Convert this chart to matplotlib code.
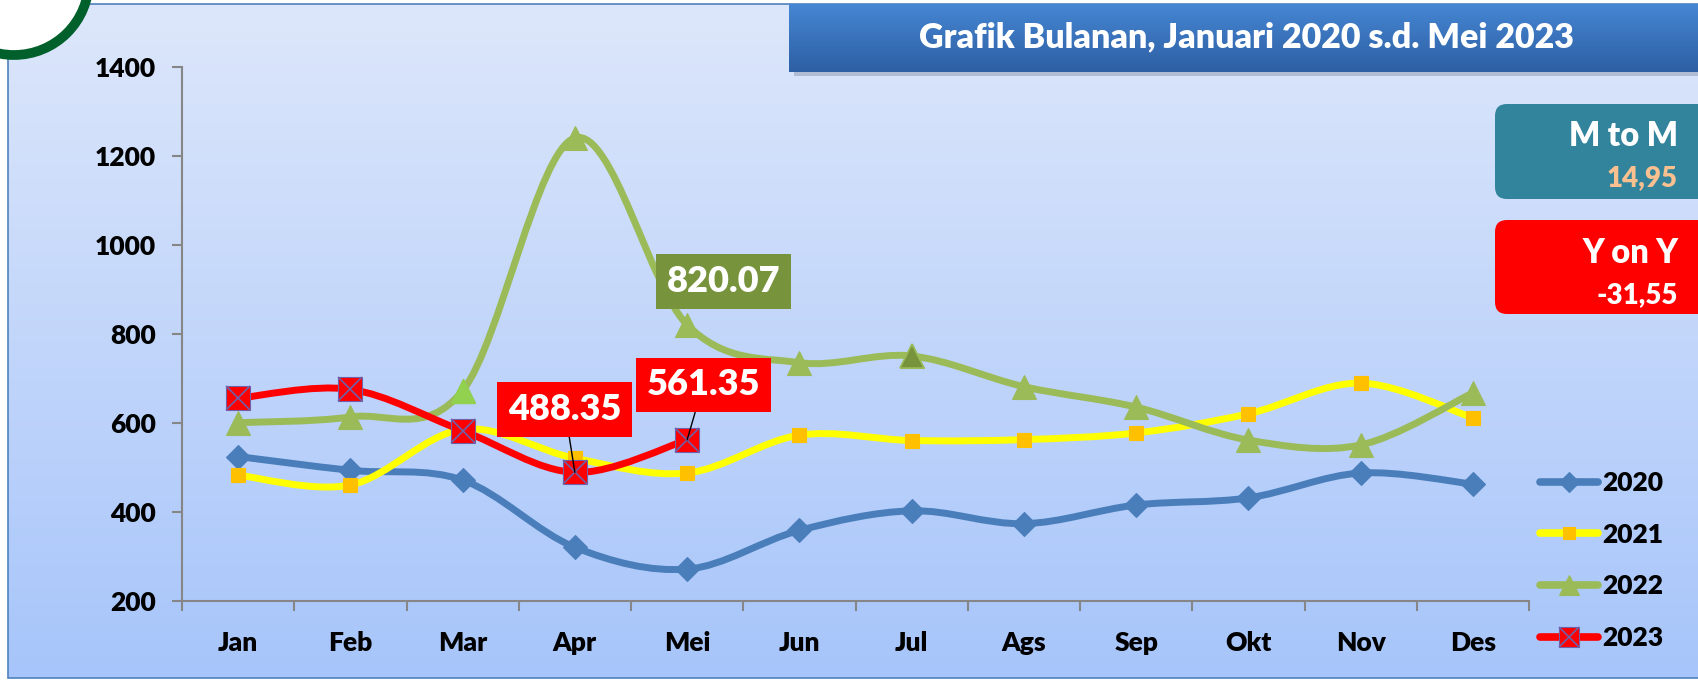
import numpy as np
import matplotlib.pyplot as plt
from matplotlib.path import Path
from matplotlib.patches import PathPatch, FancyBboxPatch, Rectangle, Circle
from matplotlib.lines import Line2D
from matplotlib.colors import LinearSegmentedColormap

plt.rcParams['font.family'] = ['Lato', 'DejaVu Sans']
plt.rcParams['font.weight'] = 'heavy'

months = ['Jan', 'Feb', 'Mar', 'Apr', 'Mei', 'Jun', 'Jul', 'Ags', 'Sep', 'Okt', 'Nov', 'Des']
y2020 = [524, 493, 471, 320, 271, 358, 402, 373, 415, 431, 487, 462]
y2021 = [482, 460, 585, 520, 487, 572, 560, 562, 577, 620, 689, 611]
y2022 = [600, 613, 672, 1240, 820.07, 735, 750, 681, 635, 561, 550, 667]
y2023 = [655, 675, 582, 488.35, 561.35]
seriesNames = ['2020', '2021', '2022', '2023']
titleText = 'Grafik Bulanan, Januari 2020 s.d. Mei 2023'
mtmLabel, mtmValue = 'M to M', '14,95'
yoyLabel, yoyValue = 'Y on Y', '-31,55'

W, H = 1698, 681


def smoothPath(xs, ys):
    # excel-like smoothed line: catmull-rom as cubic bezier segments
    pts = np.column_stack([xs, ys]).astype(float)
    n = len(pts)
    verts = [pts[0]]
    codes = [Path.MOVETO]
    for i in range(n - 1):
        p0 = pts[max(i - 1, 0)]
        p1 = pts[i]
        p2 = pts[i + 1]
        p3 = pts[min(i + 2, n - 1)]
        verts += [p1 + (p2 - p0) / 6, p2 - (p3 - p1) / 6, p2]
        codes += [Path.CURVE4] * 3
    return Path(verts, codes)


fig = plt.figure(figsize=(W / 100, H / 100), dpi=100)

# background layer in pixel coordinates
bg = fig.add_axes([0, 0, 1, 1], zorder=0)
bg.set_xlim(0, W)
bg.set_ylim(H, 0)
bg.axis('off')
bgCmap = LinearSegmentedColormap.from_list('bg', ['#dde7fb', '#a7c5fa'])
bg.imshow(np.linspace(0, 1, 256).reshape(-1, 1), cmap=bgCmap, aspect='auto',
          extent=[8, W + 5, 678, 4], zorder=0)
bg.add_patch(Rectangle((8, 4), W, 674, fill=False, edgecolor='#4f81bd', lw=1.2, zorder=1))
bg.add_patch(Circle((14, -20), 75, facecolor='white', edgecolor='#00602b', lw=7, zorder=2))

# title banner
bg.add_patch(Rectangle((794, 9), W, 67, facecolor='#8e9cb3', edgecolor='none', alpha=0.55, zorder=2))
titleCmap = LinearSegmentedColormap.from_list('tt', ['#4686d3', '#2d5fa3'])
bg.imshow(np.linspace(0, 1, 256).reshape(-1, 1), cmap=titleCmap, aspect='auto',
          extent=[789, W + 5, 72, 4], zorder=3)
bg.text(1247, 47, titleText, color='white', fontsize=24.5,
        ha='center', va='baseline', zorder=4)

# M to M / Y on Y boxes
bg.add_patch(FancyBboxPatch((1495, 104), 260, 95, boxstyle='round,pad=0,rounding_size=12',
                            facecolor='#31849b', edgecolor='none', zorder=2))
bg.text(1678, 146, mtmLabel, color='white', fontsize=23.5, ha='right', va='baseline', zorder=3)
bg.text(1678, 186, mtmValue, color='#fac090', fontsize=20, ha='right', va='baseline', zorder=3)
bg.add_patch(FancyBboxPatch((1495, 220), 260, 94, boxstyle='round,pad=0,rounding_size=12',
                            facecolor='#ff0000', edgecolor='none', zorder=2))
bg.text(1678, 263, yoyLabel, color='white', fontsize=23.5, ha='right', va='baseline', zorder=3)
bg.text(1678, 303, yoyValue, color='white', fontsize=20, ha='right', va='baseline', zorder=3)

# main chart
ax = fig.add_axes([182 / W, 80.3 / H, (1529 - 182) / W, (600.7 - 66.7) / H], zorder=2)
ax.patch.set_visible(False)
x = np.arange(len(months))

styles = [
    dict(data=y2020, line='#4a7ebb', marker='D', ms=12, mfc='#4a7ebb', mec='#4a7ebb'),
    dict(data=y2021, line='#ffff00', marker='s', ms=10.5, mfc='#ffc000', mec='#ffc000'),
    dict(data=y2022, line='#9bbb59', marker='^', ms=17, mfc='#9bbb59', mec='#9bbb59'),
    dict(data=y2023, line='#ff0000', marker='s', ms=17, mfc='#ff0000', mec='#7060a8'),
]
handles = []
for k, st in enumerate(styles):
    xs = x[:len(st['data'])]
    ax.add_patch(PathPatch(smoothPath(xs, st['data']), fill=False, edgecolor=st['line'],
                           lw=5, capstyle='round', joinstyle='round', zorder=3 + 2 * k))
    ax.plot(xs, st['data'], ls='none', marker=st['marker'], ms=st['ms'], mfc=st['mfc'],
            mec=st['mec'], mew=0.8, zorder=4 + 2 * k)
    h = Line2D([], [], color=st['line'], lw=5.5, solid_capstyle='round', marker=st['marker'],
               ms=st['ms'] * 0.85, mfc=st['mfc'], mec=st['mec'], mew=0.8)
    if k == 3:
        ax.plot(xs, st['data'], ls='none', marker='x', ms=st['ms'], mec='#7060a8', mew=1.2,
                zorder=4 + 2 * k)
        h = (h, Line2D([], [], ls='none', marker='x', ms=st['ms'] * 0.85, mec='#7060a8', mew=1.2))
    handles.append(h)

# single points drawn in other shades in 2022
ax.plot(x[2], y2022[2], ls='none', marker='^', ms=17, mfc='#92d050', mec='#92d050', zorder=9)
ax.plot(x[6], y2022[6], ls='none', marker='^', ms=17, mfc='#77933c', mec='#9bbb59', mew=1.2, zorder=9)

ax.set_xlim(-0.5, 11.5)
ax.set_ylim(200, 1400)
ax.set_yticks(np.arange(200, 1401, 200))
ax.set_xticks(x)
ax.set_xticklabels(months)
ax.set_xticks(np.arange(-0.5, 12, 1), minor=True)
ax.tick_params(axis='x', which='major', length=0, pad=22, labelsize=19)
ax.tick_params(axis='x', which='minor', length=7, width=1.5, color='#868686', direction='out')
ax.tick_params(axis='y', length=7, width=1.5, color='#868686', pad=12, labelsize=19)
for s in ['top', 'right']:
    ax.spines[s].set_visible(False)
for s in ['left', 'bottom']:
    ax.spines[s].set_color('#868686')
    ax.spines[s].set_linewidth(1.5)

# data labels
labelBox = 'square,pad=0.3'
ax.annotate('820.07', xy=(4, y2022[4]), xytext=(36, 43), textcoords='offset pixels',
            ha='center', va='center', fontsize=26, color='white', zorder=20,
            bbox=dict(boxstyle=labelBox, fc='#77933c', ec='none'))
ax.annotate('488.35', xy=(3, y2023[3]), xytext=(-10, 63), textcoords='offset pixels',
            ha='center', va='center', fontsize=26, color='white', zorder=20,
            bbox=dict(boxstyle=labelBox, fc='#ff0000', ec='none'),
            arrowprops=dict(arrowstyle='-', color='black', lw=1, shrinkA=0, shrinkB=0))
ax.annotate('561.35', xy=(4, y2023[4]), xytext=(16, 55), textcoords='offset pixels',
            ha='center', va='center', fontsize=26, color='white', zorder=20,
            bbox=dict(boxstyle=labelBox, fc='#ff0000', ec='none'),
            arrowprops=dict(arrowstyle='-', color='black', lw=1, shrinkA=0, shrinkB=0))

fig.legend(handles, seriesNames, loc='upper left', bbox_to_anchor=(1540 / W, 1 - 471 / H),
           frameon=False, fontsize=19, handlelength=2.2, handletextpad=0.15,
           labelspacing=1.05, borderpad=0, borderaxespad=0)

fig.savefig('out.png', dpi=100)
